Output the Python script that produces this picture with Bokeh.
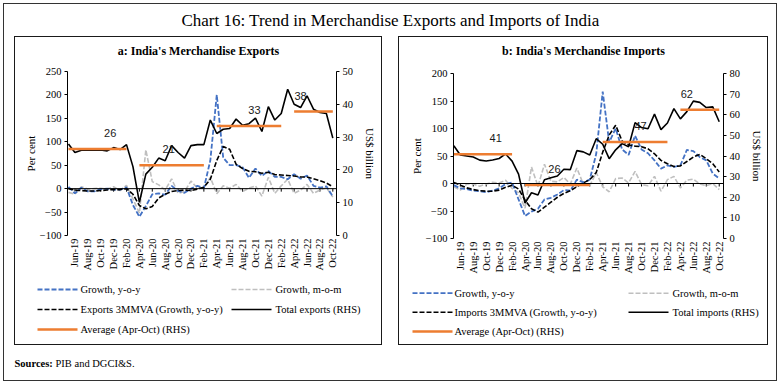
import math
from bokeh.plotting import figure
from bokeh.models import (Range1d, LinearAxis, FixedTicker, Label, Span, ColumnDataSource, Spacer)
from bokeh.layouts import column, row
from bokeh.embed import file_html
from bokeh.resources import INLINE
from bokeh.core.properties import value

# ---------------- data ----------------
months = ["May-19", "Jun-19", "Jul-19", "Aug-19", "Sep-19", "Oct-19", "Nov-19", "Dec-19",
          "Jan-20", "Feb-20", "Mar-20", "Apr-20", "May-20", "Jun-20", "Jul-20", "Aug-20",
          "Sep-20", "Oct-20", "Nov-20", "Dec-20", "Jan-21", "Feb-21", "Mar-21", "Apr-21",
          "May-21", "Jun-21", "Jul-21", "Aug-21", "Sep-21", "Oct-21", "Nov-21", "Dec-21",
          "Jan-22", "Feb-22", "Mar-22", "Apr-22", "May-22", "Jun-22", "Jul-22", "Aug-22",
          "Sep-22", "Oct-22"]
tick_labels = ["Jun-19", "Aug-19", "Oct-19", "Dec-19", "Feb-20", "Apr-20", "Jun-20", "Aug-20",
               "Oct-20", "Dec-20", "Feb-21", "Apr-21", "Jun-21", "Aug-21", "Oct-21", "Dec-21",
               "Feb-22", "Apr-22", "Jun-22", "Aug-22", "Oct-22"]

# Exports
exp_yoy = [4, -10, 2, -6, -6, -1, 0, -2, -2, 3,
           -35, -60, -37, -12, -10, -13, 6, -5, -9, 0,
           6, 1, 60, 200, 66, 50, 50, 46, 23, 43,
           27, 38, 25, 25, 20, 31, 21, 28, 6, 2,
           5, -17]
exp_mom = [-8, -12, 4, -1, 0, 1, -1, 4, -4, 7,
           -22, -52, 83, 15, 8, -3, 21, -10, -6, 16,
           1, 1, 24, -11, 6, 1, 9, -6, 1, 6,
           -16, 24, -10, 6, 20, -10, -3, 9, -10, -3,
           2, -18]
exp_3mmva = [0, -3, -4, -5, -5, -4, -3, -2, -2, 0,
             -12, -36, -43, -38, -20, -12, -6, -4, -3, -4,
             -1, 3, 20, 60, 90, 84, 52, 43, 37, 36,
             33, 35, 30, 29, 28, 27, 25, 25, 21, 17,
             12, 4]
exp_total = [27.9, 25.3, 26.0, 26.0, 26.0, 26.1, 25.8, 26.8, 26.2, 27.7,
             21.0, 10.1, 18.7, 20.8, 23.6, 22.8, 27.4, 25.3, 23.6, 27.4,
             27.7, 27.7, 35.2, 31.1, 32.4, 32.6, 35.5, 33.6, 34.1, 35.8,
             31.7, 39.3, 35.2, 37.2, 44.6, 40.0, 39.0, 42.6, 38.5, 37.5,
             37.2, 29.7]
exp_avg = [26.4, 21.4, 33.4, 37.8]
exp_avg_text = ["26", "21", "33", "38"]

# Imports
imp_yoy = [-3, -9, -10, -13, -14, -16, -13, -9, -1, 2,
           -29, -59, -51, -46, -29, -26, -20, -12, -13, 7,
           2, 7, 54, 167, 75, 100, 62, 52, 87, 62,
           55, 42, 27, 33, 30, 33, 61, 59, 48, 42,
           18, 9]
imp_mom = [-6, -12, -1, -1, -5, -1, 2, 1, 6, -9,
           -17, -45, 30, -5, 35, 4, 3, 11, -1, 28,
           -1, -4, 20, -6, -15, 9, 10, 1, 22, -2,
           -4, 13, -14, 7, 13, -8, 6, 8, -1, -4,
           0, -11]
imp_3mmva = [2, -3, -8, -11, -13, -14, -14, -12, -7, -3,
             -10, -30, -46, -52, -43, -34, -25, -18, -13, -6,
             1, 7, 20, 57, 88, 106, 77, 70, 68, 67,
             63, 54, 42, 36, 31, 32, 40, 48, 53, 45,
             36, 21]
imp_total = [45.0, 40.5, 40.0, 39.5, 38.0, 37.6, 38.1, 38.8, 41.0, 37.5,
             31.2, 17.2, 22.2, 21.1, 28.5, 29.5, 30.3, 33.6, 33.4, 42.6,
             42.0, 40.5, 48.4, 45.7, 38.7, 43.0, 46.0, 44.5, 56.2, 53.8,
             53.2, 60.3, 52.8, 56.0, 63.0, 58.0, 61.5, 66.6, 66.0, 63.5,
             63.8, 56.6]
imp_avg = [40.8, 26.0, 46.8, 62.4]
imp_avg_text = ["41", "26", "47", "62"]

# Average periods and label anchor months
seg_start = ["May-19", "Apr-20", "Apr-21", "Apr-22"]
seg_end = ["Feb-20", "Feb-21", "Feb-22", "Oct-22"]
label_month = ["Nov-19", "Sep-20", "Oct-21", "May-22"]

left_ticks_exp = [-100, -50, 0, 50, 100, 150, 200, 250]
right_ticks_exp = [0, 10, 20, 30, 40, 50]
left_ticks_imp = [-100, -50, 0, 50, 100, 150, 200]
right_ticks_imp = [0, 10, 20, 30, 40, 50, 60, 70, 80]

main_title = "Chart 16: Trend in Merchandise Exports and Imports of India"

# ---------------- styling ----------------
SERIF = "Liberation Serif"
BLUE = "#4472C4"
GREY = "#BFBFBF"
ORANGE = "#ED7D31"
BOX = {"border": "1px solid #1a1a1a"}
pos = {m: i for i, m in enumerate(months)}
idx = list(range(len(months)))


def style_axis(ax):
    ax.axis_line_color = "#000000"
    ax.axis_line_width = 1
    ax.major_tick_line_color = "#000000"
    ax.major_tick_out = 3
    ax.major_tick_in = 0
    ax.major_label_standoff = 3
    ax.minor_tick_line_color = None
    ax.major_label_text_font = SERIF
    ax.major_label_text_font_size = "10.5px"
    ax.major_label_text_color = "#000000"
    ax.axis_label_text_font = SERIF
    ax.axis_label_text_font_size = "11px"
    ax.axis_label_text_font_style = "normal"
    ax.axis_label_text_color = "#000000"


def text_fig(w, h):
    f = figure(width=w, height=h, x_range=Range1d(0, w), y_range=Range1d(0, h),
               output_backend="svg", toolbar_location=None, min_border=0,
               outline_line_color=None)
    f.axis.visible = False
    f.grid.visible = False
    return f


STYLES = [dict(line_color=BLUE, line_width=1.8, line_dash="5 2"),
          dict(line_color=GREY, line_width=1.6, line_dash="5 2"),
          dict(line_color="#000000", line_width=1.6, line_dash="5 2"),
          dict(line_color="#000000", line_width=1.6),
          dict(line_color=ORANGE, line_width=2.5)]


def make_panel(title, name, cw, ph, bl, br, bt, bb, xr, yl, lt, yr, rt, lstand, fh,
               yoy, mom, mmva, total, avg, avg_text, lh, col_x, row_y):
    # panel title
    tt = text_fig(cw, 27)
    tt.add_layout(Label(x=cw / 2, y=14, text=title, text_align="center", text_baseline="middle",
                        text_font=SERIF, text_font_size="12px", text_font_style="bold",
                        text_color="#000000"))

    p = figure(width=cw, height=ph, x_range=Range1d(*xr), y_range=Range1d(*yl),
               output_backend="svg", toolbar_location=None,
               min_border_left=bl, min_border_right=br, min_border_top=bt,
               min_border_bottom=bb, outline_line_color=None)
    p.extra_y_ranges = {"rhs": Range1d(*yr)}
    p.xgrid.visible = False
    p.ygrid.visible = False

    ly = p.yaxis[0]
    ly.ticker = FixedTicker(ticks=lt)
    ly.axis_label = "Per cent"
    style_axis(ly)
    ly.axis_label_standoff = lstand

    ry = LinearAxis(y_range_name="rhs", ticker=FixedTicker(ticks=rt), axis_label="US$ billion")
    style_axis(ry)
    ry.axis_label_standoff = 8
    p.add_layout(ry, "right")

    bx = p.xaxis[0]
    bx.ticker = FixedTicker(ticks=[pos[m] for m in tick_labels])
    bx.major_label_overrides = {pos[m]: m for m in tick_labels}
    bx.major_label_orientation = math.pi / 2
    style_axis(bx)
    bx.axis_line_color = None
    bx.major_tick_line_color = None
    bx.major_tick_out = 0
    bx.major_label_standoff = 3

    # horizontal category axis drawn at zero, with small tick marks
    p.add_layout(Span(location=0, dimension="width", line_color="#000000", line_width=1))
    tick_len = 3 * (yl[1] - yl[0]) / fh
    tx = [pos[m] for m in tick_labels]
    p.segment(x0=tx, y0=[0] * len(tx), x1=tx, y1=[-tick_len] * len(tx),
              line_color="#000000", line_width=1)

    p.line(idx, mom, **STYLES[1])
    p.line(idx, yoy, **STYLES[0])
    p.line(idx, mmva, **STYLES[2])
    p.line(idx, total, y_range_name="rhs", **STYLES[3])
    for s, e, a in zip(seg_start, seg_end, avg):
        xs = list(range(pos[s], pos[e] + 1))
        p.line(xs, [a] * len(xs), y_range_name="rhs", **STYLES[4])

    src = ColumnDataSource(dict(x=[pos[m] for m in label_month], y=avg, text=avg_text,
                                dx=[3, -3, -1, 0]))
    p.text(x="x", y="y", text="text", source=src, y_range_name="rhs", x_offset="dx",
           y_offset=-16, text_font=value("Liberation Sans"), text_font_size="11px",
           text_align="center", text_baseline="middle", text_color="#1a1a1a")

    # legend (own canvas below the plot)
    lf = text_fig(cw, lh)
    labels = ["Growth, y-o-y", "Growth, m-o-m", name + " 3MMVA (Growth, y-o-y)",
              "Total " + name.lower() + " (RHS)", "Average (Apr-Oct) (RHS)"]
    slots = [(0, 0), (1, 0), (0, 1), (1, 1), (0, 2)]
    for lab, s, (c, r) in zip(labels, STYLES, slots):
        gx, tx0 = col_x[c]
        yy = lh - row_y[r]
        lf.line([gx, gx + 40], [yy, yy], **s)
        lf.text(x=[tx0], y=[yy], text=[lab], text_font=value(SERIF), text_font_size="10.5px",
                text_baseline="middle", text_align="left", text_color="#000000")

    return column(row(tt), p, row(lf), styles=BOX)


pa = make_panel("a: India's Merchandise Exports", "Exports", 366, 214, 52, 45, 7, 43,
                (-0.15, 41.57), (-100, 250), left_ticks_exp, (0, 50), right_ticks_exp, 0, 164,
                exp_yoy, exp_mom, exp_3mmva, exp_total, exp_avg, exp_avg_text,
                66, [(22, 65), (216, 260)], [11, 31, 51])
pb = make_panel("b: India's Merchandise Imports", "Imports", 368, 217, 54, 44, 9, 43,
                (-0.05, 41.66), (-100, 200), left_ticks_imp, (0, 80), right_ticks_imp, 0, 165,
                imp_yoy, imp_mom, imp_3mmva, imp_total, imp_avg, imp_avg_text,
                63, [(13, 55), (229, 273)], [11.7, 30.7, 50])

tf = text_fig(772, 32)
tf.add_layout(Label(x=386, y=16, text=main_title, text_align="center", text_baseline="middle",
                    text_font=SERIF, text_font_size="17px", text_color="#000000"))

sf = text_fig(772, 35)
sf.add_layout(Label(x=10, y=17, text="Sources:", text_align="left", text_baseline="middle",
                    text_font=SERIF, text_font_size="10.5px", text_font_style="bold",
                    text_color="#000000"))
sf.add_layout(Label(x=51, y=17, text="PIB and DGCI&S.", text_align="left", text_baseline="middle",
                    text_font=SERIF, text_font_size="10.5px", text_color="#000000"))

layout = column(row(tf),
                row(Spacer(width=10, height=10), pa, Spacer(width=16, height=10), pb),
                row(sf),
                styles={"border": "1px solid #333333"}, margin=(3, 0, 0, 3))

open("out.html", "w").write(file_html(layout, INLINE))
